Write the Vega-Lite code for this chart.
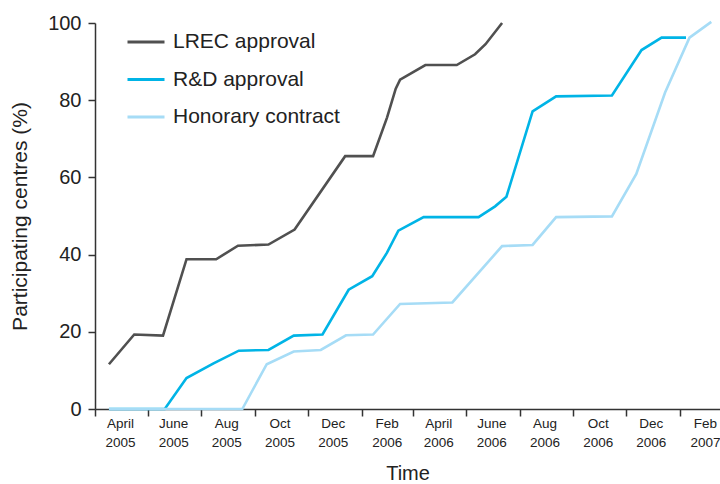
{
  "$schema": "https://vega.github.io/schema/vega-lite/v6.json",
  "width": 625,
  "height": 386,
  "autosize": {"type": "none"},
  "padding": {"left": 95, "top": 23, "right": 0, "bottom": 75},
  "background": "white",
  "config": {
    "view": {"stroke": null},
    "font": "Liberation Sans",
    "axis": {"domainColor": "#333333", "tickColor": "#333333", "domainWidth": 1.5, "tickWidth": 1.5, "labelColor": "#222222", "titleColor": "#222222", "grid": false}
  },
  "data": {
    "values": [
      {"series": "LREC approval", "date": "2005-04-17", "pct": 11.6},
      {"series": "LREC approval", "date": "2005-05-16", "pct": 19.3},
      {"series": "LREC approval", "date": "2005-06-18", "pct": 19.0},
      {"series": "LREC approval", "date": "2005-07-15", "pct": 38.8},
      {"series": "LREC approval", "date": "2005-08-18", "pct": 38.8},
      {"series": "LREC approval", "date": "2005-09-12", "pct": 42.3},
      {"series": "LREC approval", "date": "2005-10-17", "pct": 42.6},
      {"series": "LREC approval", "date": "2005-11-16", "pct": 46.5},
      {"series": "LREC approval", "date": "2006-01-13", "pct": 65.5},
      {"series": "LREC approval", "date": "2006-02-14", "pct": 65.5},
      {"series": "LREC approval", "date": "2006-03-02", "pct": 75.5},
      {"series": "LREC approval", "date": "2006-03-12", "pct": 83.0},
      {"series": "LREC approval", "date": "2006-03-17", "pct": 85.3},
      {"series": "LREC approval", "date": "2006-04-15", "pct": 89.1},
      {"series": "LREC approval", "date": "2006-05-21", "pct": 89.1},
      {"series": "LREC approval", "date": "2006-06-11", "pct": 91.9},
      {"series": "LREC approval", "date": "2006-06-23", "pct": 94.5},
      {"series": "LREC approval", "date": "2006-07-12", "pct": 100.0},
      {"series": "R&D approval", "date": "2005-04-17", "pct": 0},
      {"series": "R&D approval", "date": "2005-06-20", "pct": 0},
      {"series": "R&D approval", "date": "2005-07-15", "pct": 8.0},
      {"series": "R&D approval", "date": "2005-08-15", "pct": 11.8},
      {"series": "R&D approval", "date": "2005-09-13", "pct": 15.1},
      {"series": "R&D approval", "date": "2005-10-17", "pct": 15.3},
      {"series": "R&D approval", "date": "2005-11-15", "pct": 19.0},
      {"series": "R&D approval", "date": "2005-12-18", "pct": 19.3},
      {"series": "R&D approval", "date": "2006-01-17", "pct": 30.9},
      {"series": "R&D approval", "date": "2006-02-13", "pct": 34.4},
      {"series": "R&D approval", "date": "2006-03-02", "pct": 40.5},
      {"series": "R&D approval", "date": "2006-03-15", "pct": 46.2},
      {"series": "R&D approval", "date": "2006-04-13", "pct": 49.7},
      {"series": "R&D approval", "date": "2006-06-15", "pct": 49.7},
      {"series": "R&D approval", "date": "2006-07-04", "pct": 52.5},
      {"series": "R&D approval", "date": "2006-07-17", "pct": 55.0},
      {"series": "R&D approval", "date": "2006-08-16", "pct": 77.1},
      {"series": "R&D approval", "date": "2006-09-12", "pct": 81.0},
      {"series": "R&D approval", "date": "2006-11-15", "pct": 81.2},
      {"series": "R&D approval", "date": "2006-12-19", "pct": 93.0},
      {"series": "R&D approval", "date": "2007-01-11", "pct": 96.2},
      {"series": "R&D approval", "date": "2007-02-08", "pct": 96.2},
      {"series": "Honorary contract", "date": "2005-04-17", "pct": 0},
      {"series": "Honorary contract", "date": "2005-09-17", "pct": 0},
      {"series": "Honorary contract", "date": "2005-10-15", "pct": 11.6},
      {"series": "Honorary contract", "date": "2005-11-15", "pct": 14.9},
      {"series": "Honorary contract", "date": "2005-12-16", "pct": 15.3},
      {"series": "Honorary contract", "date": "2006-01-14", "pct": 19.1},
      {"series": "Honorary contract", "date": "2006-02-14", "pct": 19.3},
      {"series": "Honorary contract", "date": "2006-03-17", "pct": 27.2},
      {"series": "Honorary contract", "date": "2006-05-16", "pct": 27.6},
      {"series": "Honorary contract", "date": "2006-07-12", "pct": 42.2},
      {"series": "Honorary contract", "date": "2006-08-16", "pct": 42.5},
      {"series": "Honorary contract", "date": "2006-09-12", "pct": 49.7},
      {"series": "Honorary contract", "date": "2006-11-15", "pct": 49.9},
      {"series": "Honorary contract", "date": "2006-12-13", "pct": 60.9},
      {"series": "Honorary contract", "date": "2007-01-15", "pct": 82.0},
      {"series": "Honorary contract", "date": "2007-02-12", "pct": 96.2},
      {"series": "Honorary contract", "date": "2007-03-09", "pct": 100.3}
    ]
  },
  "mark": {"type": "line", "strokeWidth": 2.6, "clip": false},
  "encoding": {
    "x": {
      "field": "date",
      "type": "temporal",
      "scale": {"type": "utc", "domain": [{"year": 2005, "month": 4, "date": 1, "utc": true}, {"year": 2007, "month": 3, "date": 19, "utc": true}]},
      "axis": {
        "title": "Time",
        "titleFontSize": 20,
        "titleFontWeight": "normal",
        "titlePadding": 15,
        "values": [
          {"year": 2005, "month": 4, "date": 1, "utc": true},
          {"year": 2005, "month": 6, "date": 1, "utc": true},
          {"year": 2005, "month": 8, "date": 1, "utc": true},
          {"year": 2005, "month": 10, "date": 1, "utc": true},
          {"year": 2005, "month": 12, "date": 1, "utc": true},
          {"year": 2006, "month": 2, "date": 1, "utc": true},
          {"year": 2006, "month": 4, "date": 1, "utc": true},
          {"year": 2006, "month": 6, "date": 1, "utc": true},
          {"year": 2006, "month": 8, "date": 1, "utc": true},
          {"year": 2006, "month": 10, "date": 1, "utc": true},
          {"year": 2006, "month": 12, "date": 1, "utc": true},
          {"year": 2007, "month": 2, "date": 1, "utc": true}
        ],
        "labelExpr": "[utcmonth(datum.value) == 3 ? 'April' : (utcmonth(datum.value) == 5 ? 'June' : utcFormat(datum.value, '%b')), utcFormat(datum.value, '%Y')]",
        "labelFontSize": 13.5,
        "labelLineHeight": 19,
        "labelOffset": 25,
        "labelAlign": "center",
        "labelOverlap": false,
        "labelBound": false,
        "labelFlush": false,
        "labelPadding": 0,
        "tickSize": 7
      }
    },
    "y": {
      "field": "pct",
      "type": "quantitative",
      "scale": {"domain": [0, 100], "nice": false},
      "axis": {
        "title": "Participating centres (%)",
        "titleFontSize": 21,
        "titleFontWeight": "normal",
        "titleX": -75,
        "titleY": 193,
        "titleAlign": "center",
        "titleBaseline": "middle",
        "values": [0, 20, 40, 60, 80, 100],
        "labelFontSize": 20,
        "labelPadding": 7,
        "tickSize": 7
      }
    },
    "color": {
      "field": "series",
      "type": "nominal",
      "scale": {"domain": ["LREC approval", "R&D approval", "Honorary contract"], "range": ["#505050", "#00b4e6", "#a6dcf6"]},
      "legend": {
        "title": null,
        "orient": "none",
        "legendX": 31,
        "legendY": -1,
        "symbolType": "stroke",
        "symbolSize": 1369,
        "symbolStrokeWidth": 2.8,
        "labelFontSize": 21,
        "labelLimit": 400,
        "labelColor": "#222222",
        "labelOffset": 7,
        "rowPadding": 7.5,
        "padding": 0
      }
    }
  }
}
